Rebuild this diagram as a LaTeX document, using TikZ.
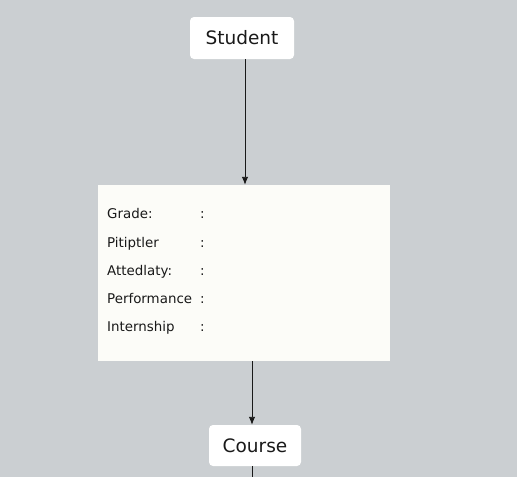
\documentclass[tikz,border=0pt]{standalone}
\usepackage{fontspec}
\setmainfont{DejaVu Sans}
\usetikzlibrary{calc,positioning,arrows.meta}
\definecolor{bggray}{HTML}{CBCFD2}
\definecolor{panelwhite}{HTML}{FCFCF8}

\tikzset{
  entity/.style={draw=none, fill=white, rounded corners=4pt, inner sep=0pt,
    font=\fontsize{18.5}{20}\selectfont, text=black!90},
  field/.style={anchor=base west, inner sep=0pt, font=\fontsize{13.4}{15}\selectfont, text=black!90},
  link/.style={draw=black!90, line width=0.9pt, -{Latex[length=8pt,width=6.5pt]}}
}

\begin{document}
\begin{tikzpicture}[x=1pt,y=-1pt]

    \fill[bggray] (0,0) rectangle (517,477);
    \useasboundingbox (0,0) rectangle (517,477);

    \node[entity, minimum width=104pt, minimum height=42pt] (student) at (242,38) {Student};
    \node[fill=panelwhite, minimum width=292pt, minimum height=176pt, inner sep=0pt] (panel) at (244,273) {};
    \node[entity, minimum width=92pt, minimum height=41pt] (course) at (255,445.5) {Course};
    \coordinate (bottom) at (252,477);

    % attribute rows
    \node[field] (grade) at (107,218) {Grade:};
    \node[field] (pitiptler) at (107,247) {Pitiptler};
    \node[field] (attedlaty) at (107,275) {Attedlaty:};
    \node[field] (performance) at (107,303) {Performance};
    \node[field] (internship) at (107,331) {Internship};
    \foreach \row in {grade,pitiptler,attedlaty,performance,internship}
      \node[field] at (200,0 |- \row.base) {:};

    \draw[link] ([xshift=3pt]student.south) -- ([xshift=3pt]student.south |- panel.north);
    \draw[link] ([xshift=-3pt]course.north |- panel.south) -- ([xshift=-3pt]course.north);
    \draw[draw=black!90, line width=0.9pt] ([xshift=-3pt]course.south) -- (bottom);

\end{tikzpicture}
\end{document}
